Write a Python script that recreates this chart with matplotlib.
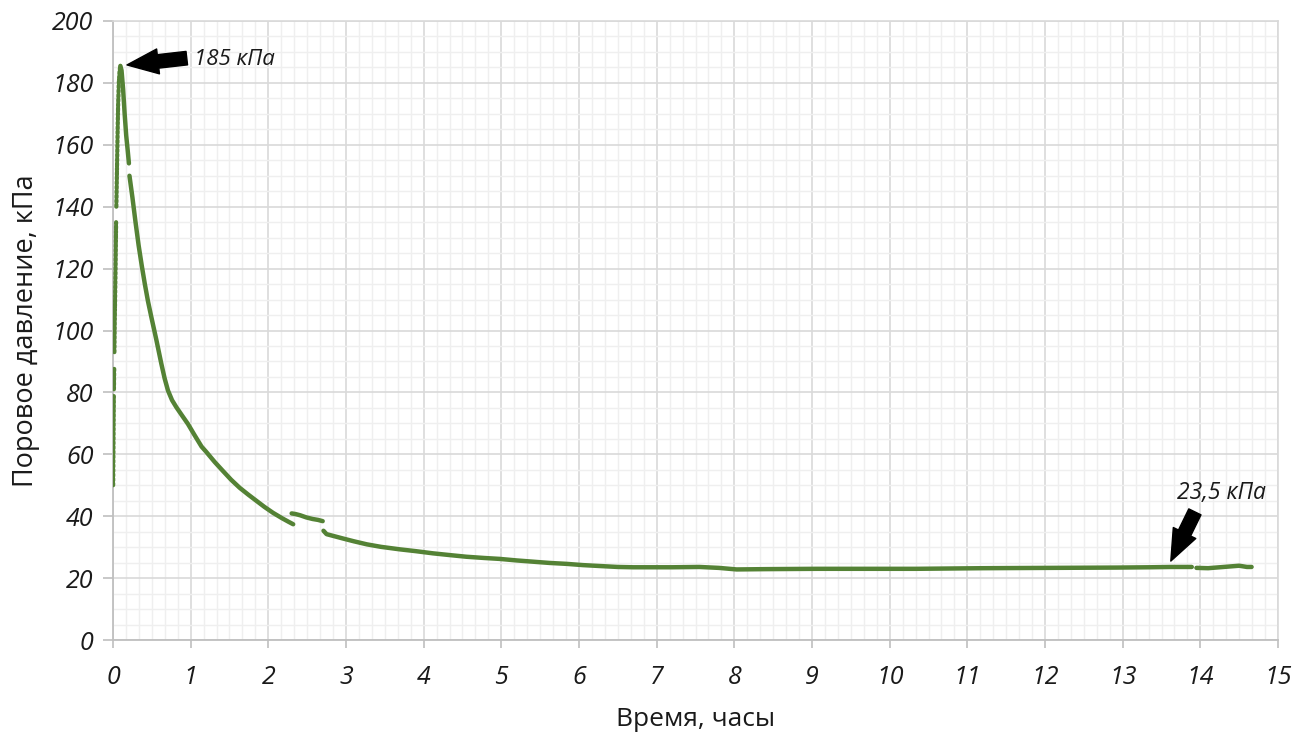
import matplotlib
matplotlib.use("Agg")
import matplotlib.pyplot as plt
from matplotlib.ticker import MultipleLocator

# ---- data (time in hours, pore pressure in kPa) ----
# rising branch (sparse dotted points), split where the reference shows gaps
t_rise1 = [0.002, 0.005, 0.008, 0.011]
p_rise1 = [50.0, 60.0, 70.0, 79.0]
t_rise2 = [0.012, 0.014, 0.016]
p_rise2 = [81.0, 85.0, 88.0]
t_rise3 = [0.018, 0.022, 0.028, 0.034, 0.040]
p_rise3 = [93.0, 102.0, 112.0, 122.0, 135.0]
t_rise4 = [0.043, 0.050, 0.058, 0.066, 0.075, 0.085, 0.095]
p_rise4 = [140.0, 150.0, 162.0, 173.0, 180.0, 184.0, 185.5]

t_fall1 = [0.095, 0.11, 0.13, 0.15, 0.17, 0.19, 0.205]
p_fall1 = [185.5, 184.0, 178.0, 170.0, 163.0, 158.0, 154.0]

t_fall2 = [0.212, 0.25, 0.29, 0.33, 0.37, 0.41, 0.45, 0.494, 0.558, 0.622, 0.665, 0.708,
           0.76, 0.816, 0.89, 0.965, 1.05, 1.14, 1.20, 1.31, 1.416, 1.52, 1.63, 1.74,
           1.85, 1.95, 2.06, 2.18, 2.26, 2.32]
p_fall2 = [150.0, 143.0, 135.0, 127.5, 121.0, 115.0, 109.5, 104.3, 97.0, 89.3, 84.5, 80.6,
           77.5, 75.2, 72.5, 69.8, 66.2, 62.5, 60.8, 57.5, 54.6, 51.8, 49.2, 47.0,
           44.9, 43.0, 41.1, 39.3, 38.2, 37.4]

t_step = [2.30, 2.35, 2.41, 2.49, 2.57, 2.64, 2.70]
p_step = [40.9, 40.7, 40.3, 39.6, 39.1, 38.8, 38.4]

t_tail = [2.71, 2.75, 2.84, 2.96, 3.10, 3.27, 3.45, 3.69, 3.90, 4.12, 4.35, 4.55, 4.78, 4.98,
          5.20, 5.41, 5.62, 5.84, 6.05, 6.27, 6.50, 6.70, 6.91, 7.20, 7.55, 7.80, 8.03, 8.41,
          9.06, 9.70, 10.34, 11.20, 12.06, 12.92, 13.35, 13.62, 13.89]
p_tail = [35.3, 34.2, 33.6, 32.8, 31.9, 30.9, 30.1, 29.3, 28.7, 28.0, 27.4, 26.9, 26.5, 26.2,
          25.7, 25.3, 24.9, 24.6, 24.2, 23.9, 23.6, 23.5, 23.5, 23.5, 23.6, 23.3, 22.8, 22.9,
          23.0, 23.0, 23.0, 23.2, 23.3, 23.4, 23.5, 23.6, 23.6]

t_end = [13.95, 14.10, 14.25, 14.40, 14.50, 14.60, 14.66]
p_end = [23.3, 23.2, 23.5, 23.8, 24.0, 23.6, 23.6]

x_ticks = list(range(0, 16))
y_ticks = list(range(0, 201, 20))

peak_label = "185 кПа"
final_label = "23,5 кПа"
x_label = "Время, часы"
y_label = "Поровое давление, кПа"

# ---- figure ----
plt.rcParams['font.family'] = ['Open Sans', 'DejaVu Sans']
W, H, DPI = 1310, 734, 100
fig = plt.figure(figsize=(W / DPI, H / DPI), dpi=DPI)
ax = fig.add_axes([113 / W, 1 - 640 / H, (1278 - 113) / W, (640 - 21) / H])

green = '#548235'
for tt, pp in [(t_rise1, p_rise1), (t_rise2, p_rise2), (t_rise3, p_rise3), (t_rise4, p_rise4)]:
    ax.plot(tt, pp, color=green, lw=3.0, linestyle=(0, (0.5, 0.6)), dash_capstyle='round', zorder=3)
for tt, pp in [(t_fall1, p_fall1), (t_fall2, p_fall2), (t_step, p_step),
               (t_tail, p_tail), (t_end, p_end)]:
    ax.plot(tt, pp, color=green, lw=3.2, solid_capstyle='round', zorder=3)

ax.set_xlim(0, 15)
ax.set_ylim(0, 200)
ax.set_xticks(x_ticks)
ax.set_yticks(y_ticks)
ax.xaxis.set_minor_locator(MultipleLocator(1 / 6))
ax.yaxis.set_minor_locator(MultipleLocator(5))

ax.grid(which='major', color='#d9d9d9', lw=1.2, zorder=1)
ax.grid(which='minor', color='#efefef', lw=1.0, zorder=0)
ax.set_axisbelow(True)

for s in ['left', 'bottom']:
    ax.spines[s].set_color('#bfbfbf')
    ax.spines[s].set_linewidth(1.3)
for s in ['top', 'right']:
    ax.spines[s].set_color('#d9d9d9')
    ax.spines[s].set_linewidth(1.2)

ax.tick_params(axis='both', which='major', direction='out', color='#bfbfbf', width=1.2,
               labelsize=18, labelcolor='#1a1a1a')
ax.tick_params(axis='x', which='major', length=6, pad=12)
ax.tick_params(axis='y', which='major', length=7, pad=7)
ax.tick_params(which='minor', length=0)
for lab in ax.get_xticklabels() + ax.get_yticklabels():
    lab.set_fontstyle('italic')

ax.set_xlabel(x_label, fontsize=19, color='#1a1a1a', labelpad=12)
ax.set_ylabel(y_label, fontsize=19.5, color='#1a1a1a', labelpad=9)

# annotations
arrow_kw = dict(arrowstyle='simple,head_length=1.5,head_width=1.2,tail_width=0.65',
                fc='black', ec='black', mutation_scale=15, shrinkA=0, shrinkB=0)
ax.annotate('', xy=(0.18, 185.8), xytext=(0.95, 188.0), arrowprops=arrow_kw, zorder=5)
ax.text(1.04, 187.4, peak_label, fontsize=16, fontstyle='italic', ha='left', va='center',
        color='#1a1a1a')
ax.annotate('', xy=(13.62, 25.5), xytext=(13.93, 41.4), arrowprops=arrow_kw, zorder=5)
ax.text(14.27, 47.5, final_label, fontsize=16.5, fontstyle='italic', ha='center', va='center',
        color='#1a1a1a')

fig.savefig('out.png', dpi=DPI, facecolor='white')
